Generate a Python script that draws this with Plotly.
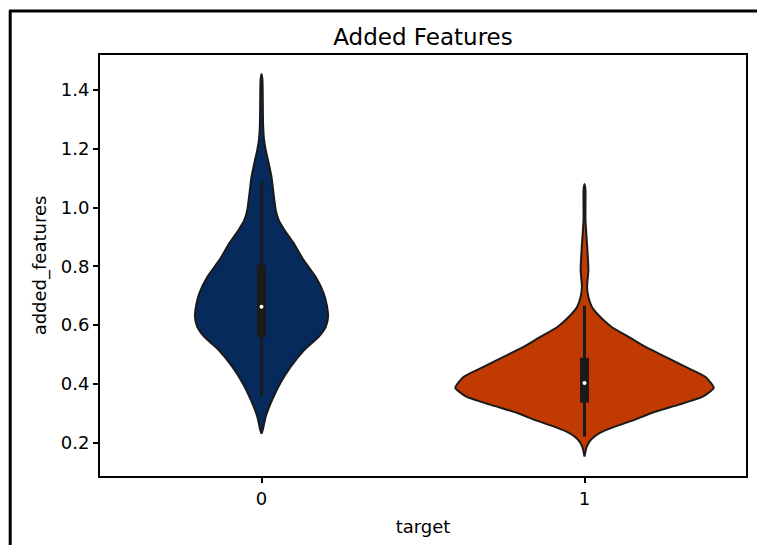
import plotly.graph_objects as go

# Category labels and their positions on the x axis
categories = ["0", "1"]
positions = [0, 1]

# Kernel density profiles (value, half-width in category units)
kde_y_0 = [1.454, 1.434, 1.366, 1.281, 1.230, 1.196, 1.162, 1.104, 1.050, 0.992,
           0.958, 0.924, 0.880, 0.822, 0.764, 0.710, 0.669, 0.628, 0.594, 0.560,
           0.516, 0.458, 0.404, 0.346, 0.289, 0.244, 0.231]
kde_w_0 = [0.000, 0.003, 0.004, 0.005, 0.008, 0.013, 0.020, 0.031, 0.037, 0.044,
           0.053, 0.071, 0.099, 0.130, 0.168, 0.192, 0.202, 0.206, 0.199, 0.177,
           0.133, 0.090, 0.059, 0.033, 0.013, 0.004, 0.000]

kde_y_1 = [1.080, 1.060, 0.958, 0.856, 0.788, 0.730, 0.696, 0.662, 0.628, 0.594,
           0.560, 0.526, 0.492, 0.458, 0.424, 0.387, 0.357, 0.329, 0.302, 0.278,
           0.254, 0.234, 0.221, 0.205, 0.187, 0.170, 0.153]
kde_w_1 = [0.000, 0.003, 0.003, 0.009, 0.012, 0.008, 0.012, 0.023, 0.049, 0.084,
           0.137, 0.189, 0.251, 0.313, 0.375, 0.400, 0.366, 0.290, 0.210, 0.155,
           0.092, 0.048, 0.031, 0.016, 0.007, 0.003, 0.000]

# Box statistics: lower whisker, q1, median, q3, upper whisker
whisker_lo = [0.357, 0.221]
q1 = [0.560, 0.337]
median = [0.663, 0.403]
q3 = [0.805, 0.489]
whisker_hi = [1.088, 0.666]

fill_colors = ["#062a5b", "#c03a02"]
edge_color = "#1a1a1a"

fig = go.Figure()

profiles = [(kde_y_0, kde_w_0), (kde_y_1, kde_w_1)]
for i, (ys, ws) in enumerate(profiles):
    c = positions[i]
    xs = [c - w for w in ws] + [c + w for w in reversed(ws)]
    yy = list(ys) + list(reversed(ys))
    fig.add_trace(go.Scatter(
        x=xs, y=yy, mode="lines", fill="toself",
        fillcolor=fill_colors[i],
        line=dict(color=edge_color, width=2, shape="spline", smoothing=0.5),
        hoverinfo="skip", showlegend=False,
    ))
    # whisker
    fig.add_trace(go.Scatter(
        x=[c, c], y=[whisker_lo[i], whisker_hi[i]], mode="lines",
        line=dict(color=edge_color, width=3), hoverinfo="skip", showlegend=False,
    ))
    # interquartile box
    fig.add_trace(go.Scatter(
        x=[c, c], y=[q1[i], q3[i]], mode="lines",
        line=dict(color=edge_color, width=9), hoverinfo="skip", showlegend=False,
    ))
    # median
    fig.add_trace(go.Scatter(
        x=[c], y=[median[i]], mode="markers",
        marker=dict(color="white", size=4, line=dict(width=0)),
        hoverinfo="skip", showlegend=False,
    ))

font_family = "DejaVu Sans"

axis_common = dict(
    showline=True, linecolor="black", linewidth=1.8, mirror=True,
    ticks="outside", ticklen=5, tickwidth=1.5, tickcolor="black",
    showgrid=False, zeroline=False,
    tickfont=dict(family=font_family, size=18, color="black"),
)

fig.update_layout(
    width=757, height=545,
    margin=dict(l=100, r=9, t=55, b=69),
    paper_bgcolor="white", plot_bgcolor="white",
    title=dict(text="Added Features", x=0.5, xref="paper", y=1 - 37 / 545,
               yanchor="middle", xanchor="center",
               font=dict(family=font_family, size=23, color="black")),
    xaxis=dict(range=[-0.5, 1.5], tickvals=positions, ticktext=categories,
               title=dict(text="target", standoff=13,
                          font=dict(family=font_family, size=18, color="black")),
               **axis_common),
    yaxis=dict(range=[0.087, 1.519],
               tickvals=[0.2, 0.4, 0.6, 0.8, 1.0, 1.2, 1.4],
               ticktext=["0.2", "0.4", "0.6", "0.8", "1.0", "1.2", "1.4"],
               title=dict(text="added_features", standoff=10,
                          font=dict(family=font_family, size=18, color="black")),
               **axis_common),
)

# outer frame around the figure (left and top edges)
fig.add_shape(type="line", xref="paper", yref="paper",
              x0=-0.139, x1=-0.139, y0=-0.2, y1=1.1045,
              line=dict(color="black", width=3))
fig.add_shape(type="line", xref="paper", yref="paper",
              x0=-0.141, x1=1.02, y0=1.1045, y1=1.1045,
              line=dict(color="black", width=3))

fig.write_html("out.html")
